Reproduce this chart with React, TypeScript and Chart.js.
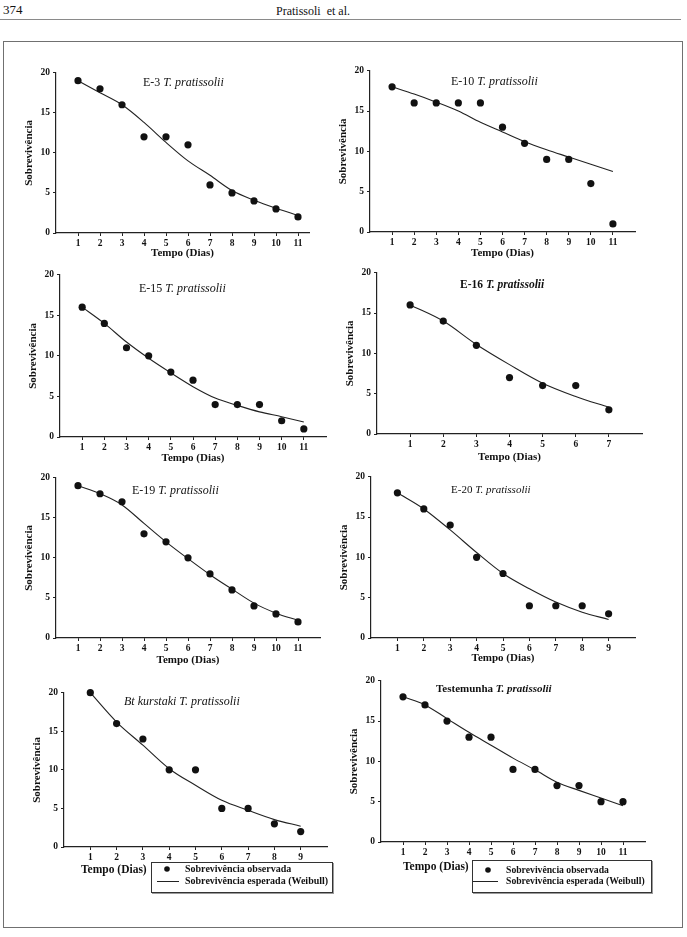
import React, { useEffect, useRef } from "react";
import { Chart, registerables } from "chart.js";

Chart.register(...registerables);

const SERIF = '"Liberation Serif", "Times New Roman", Times, serif';
const INK = "#111";

// ---------------- data ----------------
const e3Days = [1, 2, 3, 4, 5, 6, 7, 8, 9, 10, 11];
const e3Observed = [19, 18, 16, 12, 12, 11, 6, 5, 4, 3, 2];
const e3Expected = [19, 17.5, 16, 13.8, 11.3, 9.0, 7.2, 5.3, 4.1, 3.1, 2.2];

const e10Days = [1, 2, 3, 4, 5, 6, 7, 8, 9, 10, 11];
const e10Observed = [18, 16, 16, 16, 16, 13, 11, 9, 9, 6, 1];
const e10Expected = [18, 17.1, 16.1, 15.0, 13.6, 12.4, 11.2, 10.2, 9.3, 8.4, 7.5];

const e15Days = [1, 2, 3, 4, 5, 6, 7, 8, 9, 10, 11];
const e15Observed = [16, 14, 11, 10, 8, 7, 4, 4, 4, 2, 1];
const e15Expected = [16, 14.0, 11.7, 9.7, 7.9, 6.2, 4.8, 3.9, 3.1, 2.5, 1.85];

const e16Days = [1, 2, 3, 4, 5, 6, 7];
const e16Observed = [16, 14, 11, 7, 6, 6, 3];
const e16Expected = [16, 14, 11.1, 8.6, 6.3, 4.65, 3.3];

const e19Days = [1, 2, 3, 4, 5, 6, 7, 8, 9, 10, 11];
const e19Observed = [19, 18, 17, 13, 12, 10, 8, 6, 4, 3, 2];
const e19Expected = [19, 18, 16.6, 14.3, 12, 9.9, 7.9, 6.1, 4.35, 3.1, 2.2];

const e20Days = [1, 2, 3, 4, 5, 6, 7, 8, 9];
const e20Observed = [18, 16, 14, 10, 8, 4, 4, 4, 3];
const e20Expected = [18, 16, 13.4, 10.6, 8.0, 6.1, 4.45, 3.2, 2.3];

const btDays = [1, 2, 3, 4, 5, 6, 7, 8, 9];
const btObserved = [20, 16, 14, 10, 10, 5, 5, 3, 2];
const btExpected = [20, 16.2, 13.2, 10.15, 8.0, 6.05, 4.75, 3.55, 2.7];

const testDays = [1, 2, 3, 4, 5, 6, 7, 8, 9, 10, 11];
const testObserved = [18, 17, 15, 13, 13, 9, 9, 7, 7, 5, 5];
const testExpected = [18, 17.0, 15.3, 13.6, 12.0, 10.4, 8.95, 7.4, 6.4, 5.45, 4.5];

const yTicks = [0, 5, 10, 15, 20];
const labelObserved = "Sobrevivência observada";
const labelExpected = "Sobrevivência esperada (Weibull)";
const xAxisTitle = "Tempo (Dias)";
const yAxisTitle = "Sobrevivência";

// ---------------- layout ----------------
const YW = 32; // y-scale box width
const PAD_TOP = 8;
const PAD_RIGHT = 12;
const AXIS_TITLE_SIZE = 11;
const TICK_SIZE = 9.5;

type Part = { text: string; style: string; weight: string };
type Foot = {
  xTitleDx: number;
  xTitleDy: number;
  boxDx: number;
  boxDy: number;
  boxW: number;
  boxH: number;
  dotDx: number;
  dotDy: number;
  lineDx0: number;
  lineDx1: number;
  lineDy: number;
  textDx: number;
  fontSize: number;
};
type Spec = {
  days: number[];
  observed: number[];
  expected: number[];
  xMax: number;
  x0: number;
  x1: number;
  yTop: number;
  yBot: number;
  title: Part[];
  titleSize: number;
  titleDx: number;
  titleDy: number;
  xTitleOff: number;
  foot?: Foot;
};

const n = (text: string): Part => ({ text, style: "normal", weight: "normal" });
const it = (text: string): Part => ({ text, style: "italic", weight: "normal" });
const b = (text: string): Part => ({ text, style: "normal", weight: "bold" });
const bi = (text: string): Part => ({ text, style: "italic", weight: "bold" });

const specs: Spec[] = [
  {
    days: e3Days, observed: e3Observed, expected: e3Expected, xMax: 11.5,
    x0: 56, x1: 309, yTop: 72, yBot: 233,
    title: [n("E-3 "), it("T. pratissolii")], titleSize: 12, titleDx: 87, titleDy: 10,
    xTitleOff: 20,
  },
  {
    days: e10Days, observed: e10Observed, expected: e10Expected, xMax: 12,
    x0: 370, x1: 635, yTop: 70, yBot: 232,
    title: [n("E-10 "), it("T. pratissolii")], titleSize: 12, titleDx: 81, titleDy: 11,
    xTitleOff: 21,
  },
  {
    days: e15Days, observed: e15Observed, expected: e15Expected, xMax: 12,
    x0: 60, x1: 326, yTop: 274, yBot: 437,
    title: [n("E-15 "), it("T. pratissolii")], titleSize: 12, titleDx: 79, titleDy: 14,
    xTitleOff: 21,
  },
  {
    days: e16Days, observed: e16Observed, expected: e16Expected, xMax: 8,
    x0: 377, x1: 642, yTop: 272, yBot: 434,
    title: [b("E-16 "), bi("T. pratissolii")], titleSize: 11.5, titleDx: 83, titleDy: 12,
    xTitleOff: 23,
  },
  {
    days: e19Days, observed: e19Observed, expected: e19Expected, xMax: 12,
    x0: 56, x1: 320, yTop: 477, yBot: 638,
    title: [n("E-19 "), it("T. pratissolii")], titleSize: 12, titleDx: 76, titleDy: 13,
    xTitleOff: 22,
  },
  {
    days: e20Days, observed: e20Observed, expected: e20Expected, xMax: 10,
    x0: 371, x1: 635, yTop: 476, yBot: 638,
    title: [n("E-20 "), it("T. pratissolii")], titleSize: 11, titleDx: 80, titleDy: 13,
    xTitleOff: 20,
  },
  {
    days: btDays, observed: btObserved, expected: btExpected, xMax: 10,
    x0: 64, x1: 327, yTop: 692, yBot: 847,
    title: [it("Bt kurstaki T. pratissolii")], titleSize: 12, titleDx: 60, titleDy: 9,
    xTitleOff: 0,
    foot: {
      xTitleDx: 17, xTitleDy: 23,
      boxDx: 87, boxDy: 15, boxW: 181, boxH: 30,
      dotDx: 103, dotDy: 22, lineDx0: 93, lineDx1: 115, lineDy: 34, textDx: 121,
      fontSize: 10,
    },
  },
  {
    days: testDays, observed: testObserved, expected: testExpected, xMax: 12,
    x0: 381, x1: 645, yTop: 680, yBot: 842,
    title: [b("Testemunha "), bi("T. pratissolii")], titleSize: 11, titleDx: 55, titleDy: 8,
    xTitleOff: 0,
    foot: {
      xTitleDx: 22, xTitleDy: 25,
      boxDx: 91, boxDy: 18, boxW: 179, boxH: 32,
      dotDx: 107, dotDy: 28, lineDx0: 92, lineDx1: 117, lineDy: 39, textDx: 125,
      fontSize: 9.7,
    },
  },
];

function makeDecor(spec: Spec) {
  return {
    id: "decor",
    afterDraw(chart: any) {
      const { ctx, chartArea: a } = chart;
      ctx.save();
      ctx.fillStyle = INK;
      ctx.textBaseline = "middle";
      ctx.textAlign = "left";
      let x = a.left + spec.titleDx;
      const y = a.top + spec.titleDy;
      for (const p of spec.title) {
        ctx.font = `${p.style} ${p.weight} ${spec.titleSize}px ${SERIF}`;
        ctx.fillText(p.text, x, y);
        x += ctx.measureText(p.text).width;
      }
      const f = spec.foot;
      if (f) {
        ctx.font = `bold 11.5px ${SERIF}`;
        ctx.fillText(xAxisTitle, a.left + f.xTitleDx, a.bottom + f.xTitleDy);
        const bx = Math.round(a.left + f.boxDx) + 0.5;
        const by = Math.round(a.bottom + f.boxDy) + 0.5;
        ctx.strokeStyle = "#9a9a9a";
        ctx.lineWidth = 1;
        ctx.strokeRect(bx + 1, by + 1, f.boxW, f.boxH);
        ctx.strokeStyle = "#333";
        ctx.strokeRect(bx, by, f.boxW, f.boxH);
        ctx.fillStyle = "#fff";
        ctx.fillRect(bx + 0.5, by + 0.5, f.boxW - 1, f.boxH - 1);
        ctx.fillStyle = INK;
        ctx.beginPath();
        ctx.arc(a.left + f.dotDx, a.bottom + f.dotDy, 2.8, 0, Math.PI * 2);
        ctx.fill();
        ctx.strokeStyle = "#222";
        ctx.beginPath();
        ctx.moveTo(a.left + f.lineDx0, a.bottom + f.lineDy + 0.5);
        ctx.lineTo(a.left + f.lineDx1, a.bottom + f.lineDy + 0.5);
        ctx.stroke();
        ctx.font = `bold ${f.fontSize}px ${SERIF}`;
        const ds = chart.data.datasets;
        ctx.fillText(ds[0].label, a.left + f.textDx, a.bottom + f.dotDy);
        ctx.fillText(ds[1].label, a.left + f.textDx, a.bottom + f.lineDy);
      }
      ctx.restore();
    },
  };
}

function SurvivalChart({ spec }: { spec: Spec }) {
  const ref = useRef<HTMLCanvasElement | null>(null);
  const half = (AXIS_TITLE_SIZE * 1.2) / 2;
  const XH = spec.foot ? 16 : spec.xTitleOff + half;
  const padBottom = spec.foot ? 40 : 2;
  const yw = Math.round(26 + half);
  const left = spec.x0 - yw;
  const top = spec.yTop - PAD_TOP;
  const width = spec.x1 - left + PAD_RIGHT;
  const height = Math.ceil(PAD_TOP + (spec.yBot - spec.yTop) + XH + padBottom);

  useEffect(() => {
    if (!ref.current) return;
    const tickFont = { family: SERIF, size: TICK_SIZE, weight: "bold" as const };
    const titleFont = { family: SERIF, size: AXIS_TITLE_SIZE, weight: "bold" as const };
    const chart = new Chart(ref.current, {
      type: "scatter",
      data: {
        datasets: [
          {
            label: labelObserved,
            data: spec.days.map((d, i) => ({ x: d, y: spec.observed[i] })),
            showLine: false,
            pointRadius: 3.6,
            pointBackgroundColor: INK,
            pointBorderWidth: 0,
            clip: false as any,
            order: 1,
          },
          {
            label: labelExpected,
            data: spec.days.map((d, i) => ({ x: d, y: spec.expected[i] })),
            showLine: true,
            borderColor: "#222",
            borderWidth: 1.1,
            pointRadius: 0,
            cubicInterpolationMode: "monotone",
            clip: false as any,
            order: 2,
          },
        ],
      },
      options: {
        responsive: false,
        animation: false,
        events: [],
        layout: {
          padding: {
            left: 0,
            top: PAD_TOP,
            right: PAD_RIGHT,
            bottom: height - PAD_TOP - (spec.yBot - spec.yTop) - XH,
          },
        },
        plugins: { legend: { display: false }, tooltip: { enabled: false }, title: { display: false } },
        scales: {
          x: {
            type: "linear",
            min: 0,
            max: spec.xMax,
            afterBuildTicks: (s: any) => {
              s.ticks = spec.days.map((v) => ({ value: v }));
            },
            afterFit: (s: any) => {
              s.height = XH;
            },
            grid: { display: true, drawOnChartArea: false, drawTicks: true, tickLength: 3, color: "#222" },
            border: { display: true, color: "#222", width: 1.2 },
            ticks: { font: tickFont, color: INK, padding: 2, maxRotation: 0, autoSkip: false },
            title: {
              display: !spec.foot,
              text: xAxisTitle,
              font: titleFont,
              color: INK,
              padding: 0,
            },
          },
          y: {
            type: "linear",
            min: 0,
            max: 20,
            afterBuildTicks: (s: any) => {
              s.ticks = yTicks.map((v) => ({ value: v }));
            },
            afterFit: (s: any) => {
              s.width = yw;
            },
            grid: { display: true, drawOnChartArea: false, drawTicks: true, tickLength: 3, color: "#222" },
            border: { display: true, color: "#222", width: 1.2 },
            ticks: { font: tickFont, color: INK, padding: 3 },
            title: {
              display: true,
              text: yAxisTitle,
              font: titleFont,
              color: INK,
              padding: 0,
            },
          },
        },
      },
      plugins: [makeDecor(spec)],
    } as any);
    return () => chart.destroy();
  }, [spec]);

  return (
    <canvas
      ref={ref}
      width={width}
      height={height}
      style={{ position: "absolute", left, top, width, height }}
    />
  );
}

export default function App() {
  return (
    <div
      style={{
        position: "absolute",
        left: 0,
        top: 0,
        width: 687,
        height: 937,
        background: "#fff",
        fontFamily: SERIF,
        color: INK,
        overflow: "hidden",
      }}
    >
      <div style={{ position: "absolute", left: 3, top: 2, fontSize: 13 }}>374</div>
      <div style={{ position: "absolute", left: 276, top: 4, fontSize: 12 }}>Pratissoli&nbsp; et al.</div>
      <div style={{ position: "absolute", left: 0, top: 19, width: 681, borderTop: "1.5px solid #8a8a8a" }} />
      <div
        style={{
          position: "absolute",
          left: 3,
          top: 41,
          width: 678,
          height: 885,
          border: "1px solid #707070",
        }}
      />
      {specs.map((s, i) => (
        <SurvivalChart key={i} spec={s} />
      ))}
    </div>
  );
}
